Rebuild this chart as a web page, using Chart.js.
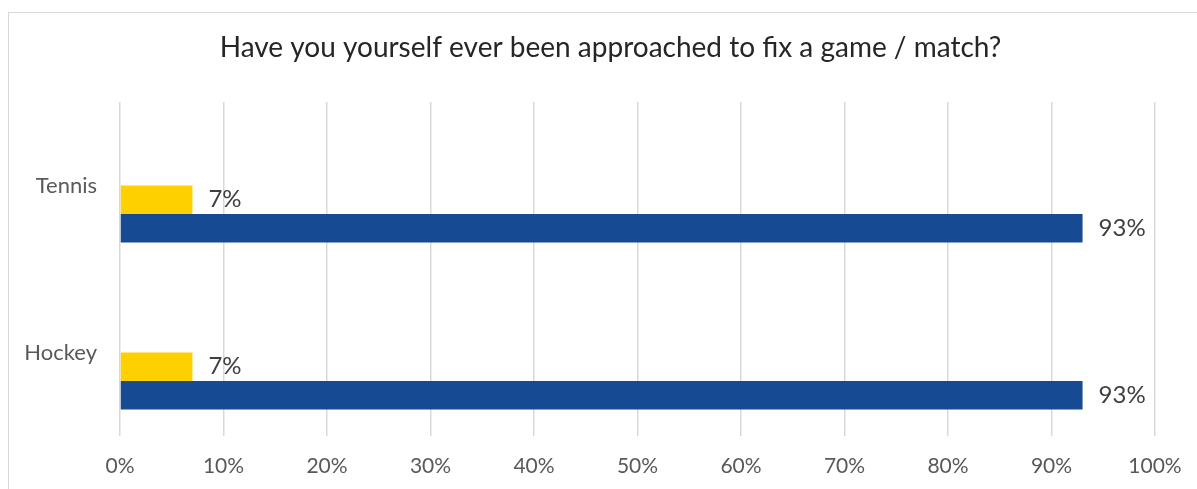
<!DOCTYPE html>
<html>
<head>
<meta charset="utf-8">
<script src="https://cdn.jsdelivr.net/npm/chart.js@4.4.1/dist/chart.umd.min.js"></script>
<style>
  html, body { margin: 0; padding: 0; background: #fff; overflow: hidden; }
  body { width: 1197px; height: 489px; position: relative; }
  .frame {
    position: absolute; left: 8px; top: 12px;
    width: 1203px; height: 490px;
    border: 1.5px solid #d9d9d9;
  }
  .frame canvas { display: block; }
</style>
</head>
<body>
<div class="frame">
  <canvas id="chart_1" width="1203" height="476"></canvas>
</div>
<script>
const sports = ['Tennis', 'Hockey'];
// two empty slots sit above the answered bars in each group
const emptySlotA = [null, null];
const emptySlotB = [null, null];
const yesValues = [7, 7];
const noValues = [93, 93];
const xTicks = [0, 10, 20, 30, 40, 50, 60, 70, 80, 90, 100];

const FONT = 'Lato, "Open Sans", sans-serif';

// value labels just past the end of each bar
const barLabels = {
    id: 'barLabels',
    afterDatasetsDraw(chart) {
        const ctx = chart.ctx;
        ctx.save();
        ctx.font = '24px ' + FONT;
        ctx.fillStyle = '#404040';
        ctx.textAlign = 'left';
        ctx.textBaseline = 'middle';
        chart.data.datasets.forEach((ds, i) => {
            const meta = chart.getDatasetMeta(i);
            meta.data.forEach((bar, j) => {
                const v = ds.data[j];
                if (v == null) return;
                ctx.fillText(Math.round(v) + '%', bar.x + 16, bar.y);
            });
        });
        ctx.restore();
    }
};

const chartBar = {
    type: 'bar',
    data: {
        labels: sports,
        datasets: [
            { label: '', data: emptySlotA, backgroundColor: 'transparent' },
            { label: '', data: emptySlotB, backgroundColor: 'transparent' },
            { label: 'Yes', data: yesValues, backgroundColor: '#FFD000' },
            { label: 'No', data: noValues, backgroundColor: '#164B93' }
        ]
    },
    options: {
        indexAxis: 'y',
        responsive: false,
        animation: false,
        categoryPercentage: 0.683,
        barPercentage: 1,
        layout: { padding: 0 },
        plugins: {
            legend: { display: false },
            tooltip: { enabled: false },
            title: {
                display: true,
                text: 'Have you yourself ever been approached to fix a game / match?',
                color: '#262626',
                font: { family: FONT, size: 28, weight: 'normal' },
                padding: { top: 18, bottom: 37.4 }
            }
        },
        scales: {
            x: {
                min: 0,
                max: 100,
                afterBuildTicks: (scale) => { scale.ticks = xTicks.map(v => ({ value: v })); },
                afterFit: (scale) => { scale.height = 53; },
                grid: { color: '#d9d9d9', lineWidth: 1.5, drawTicks: false },
                border: { display: false },
                ticks: {
                    padding: 18,
                    color: '#595959',
                    font: { family: FONT, size: 21 },
                    callback: (v) => v + '%'
                }
            },
            y: {
                afterFit: (scale) => { scale.width = 111; },
                grid: { display: false, drawTicks: false },
                border: { display: false },
                ticks: {
                    padding: 23,
                    color: '#595959',
                    font: { family: FONT, size: 22 }
                }
            },
            // blank strip on the right so the plot stops short of the frame
            yRight: {
                type: 'linear',
                position: 'right',
                afterFit: (scale) => { scale.width = 57; },
                grid: { display: false, drawTicks: false },
                border: { display: false },
                ticks: { display: false }
            }
        }
    },
    plugins: [barLabels]
};

const ctx_1 = document.getElementById('chart_1').getContext('2d');
const chart_1 = new Chart(ctx_1, chartBar);
</script>
</body>
</html>
